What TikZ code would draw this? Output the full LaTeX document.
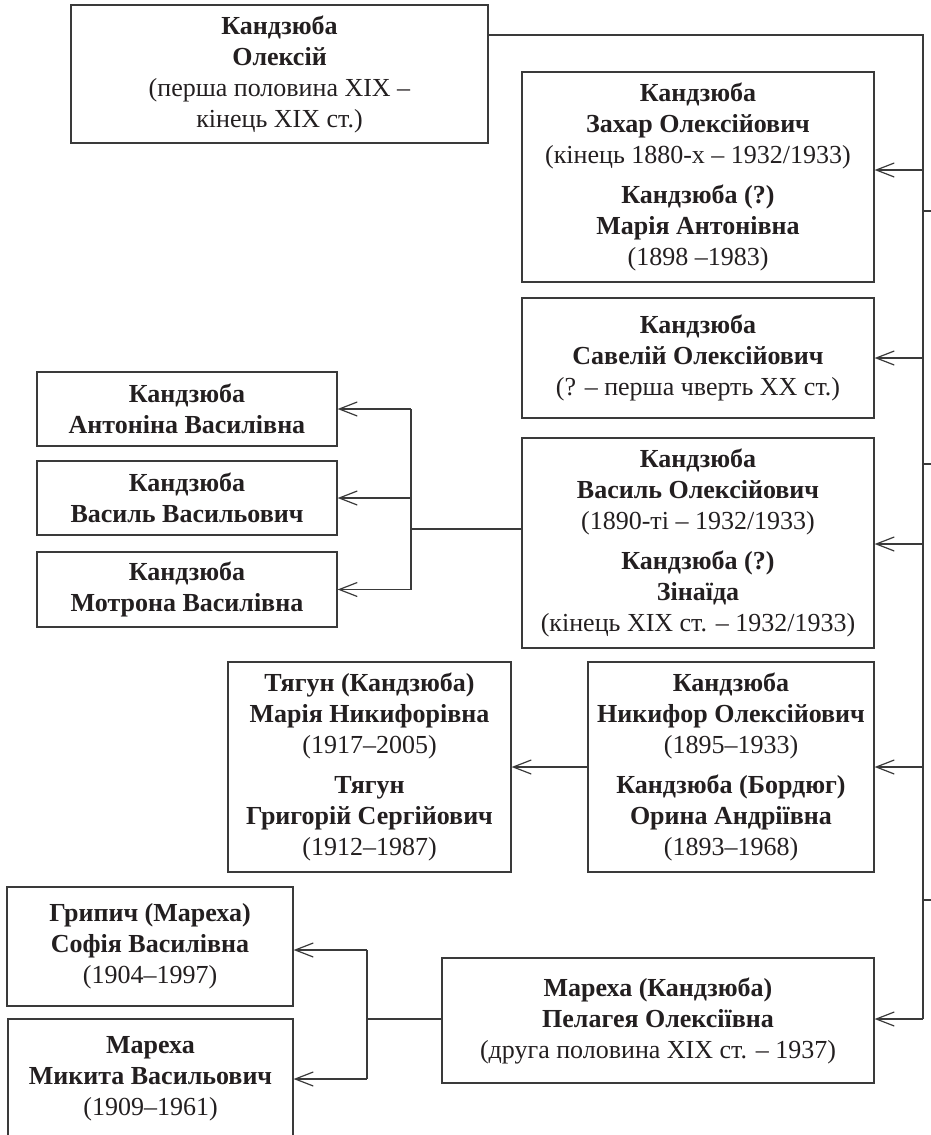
\documentclass[tikz,border=0pt]{standalone}
\usepackage{fontspec}
\setmainfont{Liberation Serif}
\usetikzlibrary{arrows.meta}
\definecolor{ink}{HTML}{231F20}
\definecolor{rule}{HTML}{3A3A3A}

\begin{document}
\begin{tikzpicture}[x=1pt,y=-1pt]
                      \tikzstyle{every node}+=[inner sep=0pt]
                      \tikzstyle{person}=[draw=rule, line width=1.2pt, align=center, text=ink, font=\fontsize{26}{31}\selectfont]
                      \tikzstyle{link}=[draw=rule, line width=1.2pt]
                      \tikzstyle{child}=[link, {Straight Barb[length=18pt,width=14pt]}-]
                      \useasboundingbox (0,0) rectangle (931,1135);
                      \node [person, minimum width=417pt, minimum height=138pt] (oleksiy) at (279.5,74) {\textbf{Кандзюба}\\\textbf{Олексій}\\(перша половина XIX –\\кінець XIX ст.)};
                      \node [person, minimum width=352pt, minimum height=210pt] (zakhar) at (698,177) {\textbf{Кандзюба}\\\textbf{Захар Олексійович}\\(кінець 1880-х – 1932/1933)\\[9pt]\textbf{Кандзюба (?)}\\\textbf{Марія Антонівна}\\(1898 –1983)};
                      \node [person, minimum width=352pt, minimum height=120pt] (saveliy) at (698,358) {\textbf{Кандзюба}\\\textbf{Савелій Олексійович}\\(? – перша чверть XX ст.)};
                      \node [person, minimum width=352pt, minimum height=210pt] (vasyl) at (698,543) {\textbf{Кандзюба}\\\textbf{Василь Олексійович}\\(1890-ті – 1932/1933)\\[9pt]\textbf{Кандзюба (?)}\\\textbf{Зінаїда}\\(кінець XIX ст. – 1932/1933)};
                      \node [person, minimum width=286pt, minimum height=210pt] (nykyfor) at (731,767) {\textbf{Кандзюба}\\\textbf{Никифор Олексійович}\\(1895–1933)\\[9pt]\textbf{Кандзюба (Бордюг)}\\\textbf{Орина Андріївна}\\(1893–1968)};
                      \node [person, minimum width=432pt, minimum height=125pt] (pelageya) at (658,1020.5) {\textbf{Мареха (Кандзюба)}\\\textbf{Пелагея Олексіївна}\\(друга половина XIX ст. – 1937)};
                      \node [person, minimum width=300pt, minimum height=74pt] (antonina) at (187,409) {\textbf{Кандзюба}\\\textbf{Антоніна Василівна}};
                      \node [person, minimum width=300pt, minimum height=74pt] (vasylv) at (187,498) {\textbf{Кандзюба}\\\textbf{Василь Васильович}};
                      \node [person, minimum width=300pt, minimum height=75pt] (motrona) at (187,589.5) {\textbf{Кандзюба}\\\textbf{Мотрона Василівна}};
                      \node [person, minimum width=283pt, minimum height=210pt] (tyahun) at (369.5,767) {\textbf{Тягун (Кандзюба)}\\\textbf{Марія Никифорівна}\\(1917–2005)\\[9pt]\textbf{Тягун}\\\textbf{Григорій Сергійович}\\(1912–1987)};
                      \node [person, minimum width=286pt, minimum height=119pt] (hrypych) at (150,946.5) {\textbf{Грипич (Мареха)}\\\textbf{Софія Василівна}\\(1904–1997)};
                      \node [person, minimum width=285pt, minimum height=120pt] (mykyta) at (150.5,1079) {\textbf{Мареха}\\\textbf{Микита Васильович}\\(1909–1961)};
                      \coordinate (trunktop) at (923,35);
                      \coordinate (trunkend) at (923,1019);
                      \coordinate (tz) at (923,170);
                      \coordinate (ts) at (923,358);
                      \coordinate (tv) at (923,544);
                      \coordinate (tn) at (923,767);
                      \coordinate (vfork) at (411,529);
                      \coordinate (mfork) at (367,1019);
                      \draw [link] (oleksiy.east |- trunktop) -- (trunktop) -- (trunkend);
                      \draw [link] (923,211) -- (931,211);
                      \draw [link] (923,464) -- (931,464);
                      \draw [link] (923,900) -- (931,900);
                      \draw [child] (tz -| zakhar.east) -- (tz);
                      \draw [child] (saveliy.east) -- (ts);
                      \draw [child] (tv -| vasyl.east) -- (tv);
                      \draw [child] (nykyfor.east) -- (tn);
                      \draw [child] (trunkend -| pelageya.east) -- (trunkend);
                      \draw [link] (vasyl.west |- vfork) -- (vfork);
                      \draw [link] (vfork |- antonina.east) -- (vfork |- motrona.east);
                      \draw [child] (antonina.east) -- (vfork |- antonina.east);
                      \draw [child] (vasylv.east) -- (vfork |- vasylv.east);
                      \draw [child] (motrona.east) -- (vfork |- motrona.east);
                      \draw [child] (tyahun.east) -- (nykyfor.west);
                      \draw [link] (pelageya.west |- mfork) -- (mfork);
                      \draw [link] (367,950) -- (mfork |- mykyta.east);
                      \draw [child] (hrypych.east |- 0,950) -- (367,950);
                      \draw [child] (mykyta.east) -- (mfork |- mykyta.east);
                  \end{tikzpicture}
\end{document}
